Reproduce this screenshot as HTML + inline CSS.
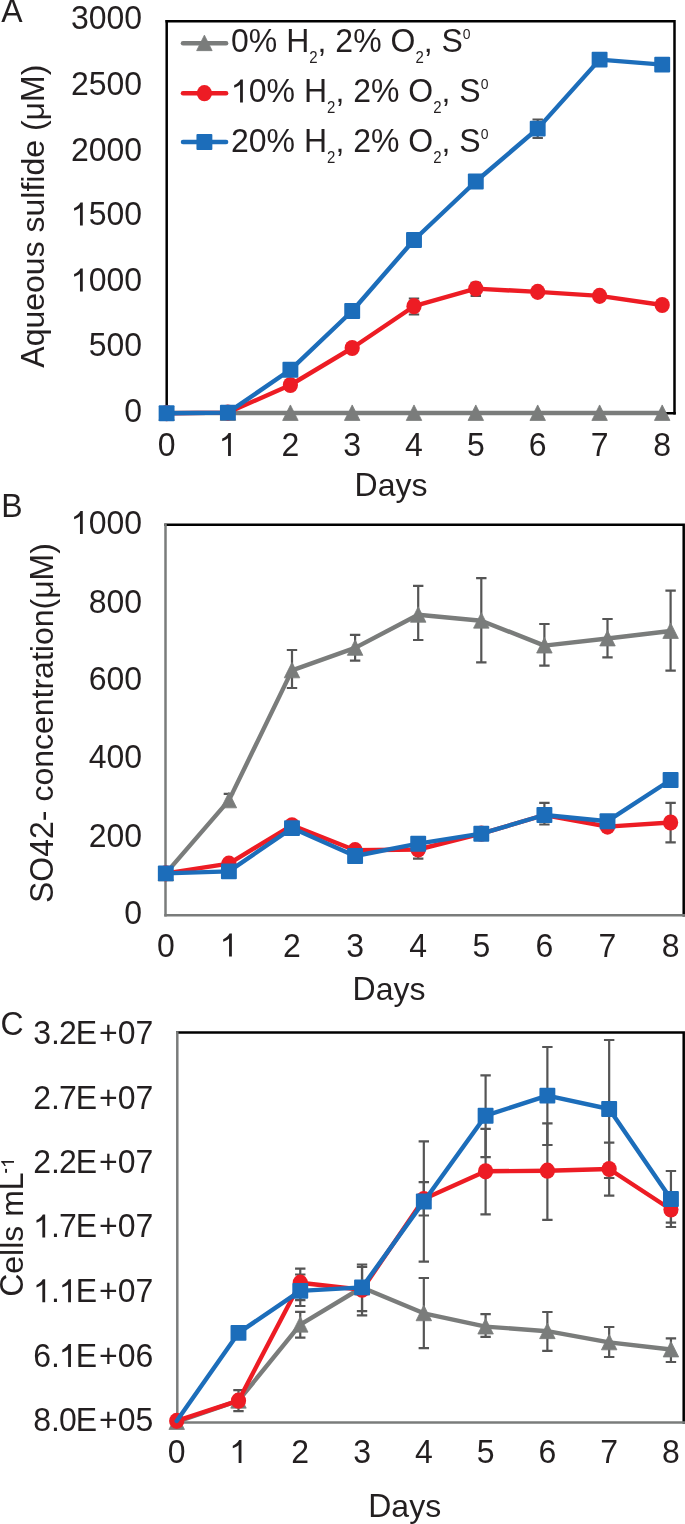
<!DOCTYPE html>
<html><head><meta charset="utf-8"><style>
html,body{margin:0;padding:0;background:#fff;}
body{width:685px;height:1524px;overflow:hidden;}
svg{display:block;will-change:transform;filter:blur(0.35px);}
text{font-family:"Liberation Sans",sans-serif;fill:#231f20;}
</style></head><body>
<svg width="685" height="1524" viewBox="0 0 685 1524">
<rect width="685" height="1524" fill="#fff"/>
<text transform="translate(1.20,22.40) scale(1,1.045)" font-size="32">A</text>
<path d="M166.70,21.30H674.50V413.30" stroke="#000" stroke-width="2.5" fill="none" stroke-linecap="square"/>
<path d="M166.70,21.30V413.30" stroke="#000" stroke-width="2.5" fill="none" stroke-linecap="square"/>
<path d="M166.70,413.30H674.50" stroke="#000" stroke-width="2.5" fill="none" stroke-linecap="square"/>
<text transform="translate(70.91,28.80) scale(1,1.045)" font-size="32">3</text>
<text transform="translate(88.71,28.80) scale(1,1.045)" font-size="32">0</text>
<text transform="translate(106.51,28.80) scale(1,1.045)" font-size="32">0</text>
<text transform="translate(124.30,28.80) scale(1,1.045)" font-size="32">0</text>
<text transform="translate(70.91,95.10) scale(1,1.045)" font-size="32">2</text>
<text transform="translate(88.71,95.10) scale(1,1.045)" font-size="32">5</text>
<text transform="translate(106.51,95.10) scale(1,1.045)" font-size="32">0</text>
<text transform="translate(124.30,95.10) scale(1,1.045)" font-size="32">0</text>
<text transform="translate(70.91,160.80) scale(1,1.045)" font-size="32">2</text>
<text transform="translate(88.71,160.80) scale(1,1.045)" font-size="32">0</text>
<text transform="translate(106.51,160.80) scale(1,1.045)" font-size="32">0</text>
<text transform="translate(124.30,160.80) scale(1,1.045)" font-size="32">0</text>
<path transform="translate(70.91,225.40) scale(0.015625,-0.016328)" d="M760,0H580V1100C505,1022 365,948 205,900V1060C360,1120 515,1230 610,1409H760Z" fill="#231f20"/>
<text transform="translate(88.71,225.40) scale(1,1.045)" font-size="32">5</text>
<text transform="translate(106.51,225.40) scale(1,1.045)" font-size="32">0</text>
<text transform="translate(124.30,225.40) scale(1,1.045)" font-size="32">0</text>
<path transform="translate(70.91,291.40) scale(0.015625,-0.016328)" d="M760,0H580V1100C505,1022 365,948 205,900V1060C360,1120 515,1230 610,1409H760Z" fill="#231f20"/>
<text transform="translate(88.71,291.40) scale(1,1.045)" font-size="32">0</text>
<text transform="translate(106.51,291.40) scale(1,1.045)" font-size="32">0</text>
<text transform="translate(124.30,291.40) scale(1,1.045)" font-size="32">0</text>
<text transform="translate(88.71,356.00) scale(1,1.045)" font-size="32">5</text>
<text transform="translate(106.51,356.00) scale(1,1.045)" font-size="32">0</text>
<text transform="translate(124.30,356.00) scale(1,1.045)" font-size="32">0</text>
<text transform="translate(124.30,421.70) scale(1,1.045)" font-size="32">0</text>
<text transform="translate(157.70,455.90) scale(1,1.045)" font-size="32">0</text>
<path transform="translate(219.00,455.90) scale(0.015625,-0.016328)" d="M760,0H580V1100C505,1022 365,948 205,900V1060C360,1120 515,1230 610,1409H760Z" fill="#231f20"/>
<text transform="translate(281.50,455.90) scale(1,1.045)" font-size="32">2</text>
<text transform="translate(343.30,455.90) scale(1,1.045)" font-size="32">3</text>
<text transform="translate(405.10,455.90) scale(1,1.045)" font-size="32">4</text>
<text transform="translate(466.90,455.90) scale(1,1.045)" font-size="32">5</text>
<text transform="translate(528.80,455.90) scale(1,1.045)" font-size="32">6</text>
<text transform="translate(590.70,455.90) scale(1,1.045)" font-size="32">7</text>
<text transform="translate(653.30,455.90) scale(1,1.045)" font-size="32">8</text>
<text transform="translate(354.55,496.30) scale(1,1.045)" font-size="32">D</text>
<text transform="translate(377.66,496.30) scale(1,0.985)" font-size="32">a</text>
<text transform="translate(395.45,496.30) scale(1,0.985)" font-size="32">y</text>
<text transform="translate(411.45,496.30) scale(1,0.985)" font-size="32">s</text>
<text transform="translate(43.70,367.70) rotate(-90) scale(1,1.045)" font-size="32">A</text>
<text transform="translate(43.70,346.36) rotate(-90) scale(1,0.985)" font-size="32">q</text>
<text transform="translate(43.70,328.56) rotate(-90) scale(1,0.985)" font-size="32">u</text>
<text transform="translate(43.70,310.76) rotate(-90) scale(1,0.985)" font-size="32">e</text>
<text transform="translate(43.70,292.97) rotate(-90) scale(1,0.985)" font-size="32">o</text>
<text transform="translate(43.70,275.17) rotate(-90) scale(1,0.985)" font-size="32">u</text>
<text transform="translate(43.70,257.37) rotate(-90) scale(1,0.985)" font-size="32">s</text>
<text transform="translate(43.70,232.48) rotate(-90) scale(1,0.985)" font-size="32">s</text>
<text transform="translate(43.70,216.48) rotate(-90) scale(1,0.985)" font-size="32">u</text>
<text transform="translate(43.70,198.68) rotate(-90) scale(1,0.985)" font-size="32">l</text>
<text transform="translate(43.70,191.57) rotate(-90) scale(1,0.985)" font-size="32">f</text>
<text transform="translate(43.70,182.68) rotate(-90) scale(1,0.985)" font-size="32">i</text>
<text transform="translate(43.70,175.57) rotate(-90) scale(1,0.985)" font-size="32">d</text>
<text transform="translate(43.70,157.78) rotate(-90) scale(1,0.985)" font-size="32">e</text>
<text transform="translate(43.70,131.09) rotate(-90)" font-size="32">(</text>
<text transform="translate(43.70,120.43) rotate(-90) scale(1,0.985)" font-size="32">μ</text>
<text transform="translate(43.70,102.00) rotate(-90) scale(1,1.045)" font-size="32">M</text>
<text transform="translate(43.70,75.34) rotate(-90)" font-size="32">)</text>
<path d="M414.00,298.50V314.50M408.80,298.50H419.20M408.80,314.50H419.20" stroke="#555555" stroke-width="2.2" fill="none"/>
<path d="M475.80,282.80V296.00M470.60,282.80H481.00M470.60,296.00H481.00" stroke="#555555" stroke-width="2.2" fill="none"/>
<path d="M537.70,119.50V138.00M532.50,119.50H542.90M532.50,138.00H542.90" stroke="#555555" stroke-width="2.2" fill="none"/>
<polyline points="166.60,413.00 227.90,413.00 290.40,413.00 352.20,413.00 414.00,413.00 475.80,413.00 537.70,413.00 599.60,413.00 662.20,413.00" fill="none" stroke="#7a7c7b" stroke-width="4.4" stroke-linejoin="round" stroke-linecap="round"/>
<path d="M166.60,404.94 L174.35,420.44 L158.85,420.44Z" fill="#7a7c7b" stroke="#7a7c7b" stroke-width="0.8" stroke-linejoin="round"/>
<path d="M227.90,404.94 L235.65,420.44 L220.15,420.44Z" fill="#7a7c7b" stroke="#7a7c7b" stroke-width="0.8" stroke-linejoin="round"/>
<path d="M290.40,404.94 L298.15,420.44 L282.65,420.44Z" fill="#7a7c7b" stroke="#7a7c7b" stroke-width="0.8" stroke-linejoin="round"/>
<path d="M352.20,404.94 L359.95,420.44 L344.45,420.44Z" fill="#7a7c7b" stroke="#7a7c7b" stroke-width="0.8" stroke-linejoin="round"/>
<path d="M414.00,404.94 L421.75,420.44 L406.25,420.44Z" fill="#7a7c7b" stroke="#7a7c7b" stroke-width="0.8" stroke-linejoin="round"/>
<path d="M475.80,404.94 L483.55,420.44 L468.05,420.44Z" fill="#7a7c7b" stroke="#7a7c7b" stroke-width="0.8" stroke-linejoin="round"/>
<path d="M537.70,404.94 L545.45,420.44 L529.95,420.44Z" fill="#7a7c7b" stroke="#7a7c7b" stroke-width="0.8" stroke-linejoin="round"/>
<path d="M599.60,404.94 L607.35,420.44 L591.85,420.44Z" fill="#7a7c7b" stroke="#7a7c7b" stroke-width="0.8" stroke-linejoin="round"/>
<path d="M662.20,404.94 L669.95,420.44 L654.45,420.44Z" fill="#7a7c7b" stroke="#7a7c7b" stroke-width="0.8" stroke-linejoin="round"/>
<polyline points="166.60,413.20 227.90,412.60 290.40,385.00 352.20,348.00 414.00,306.20 475.80,288.60 537.70,291.90 599.60,295.90 662.20,305.00" fill="none" stroke="#ed1c24" stroke-width="4.4" stroke-linejoin="round" stroke-linecap="round"/>
<ellipse cx="166.60" cy="413.20" rx="7.6" ry="8.09" fill="#ed1c24"/>
<ellipse cx="227.90" cy="412.60" rx="7.6" ry="8.09" fill="#ed1c24"/>
<ellipse cx="290.40" cy="385.00" rx="7.6" ry="8.09" fill="#ed1c24"/>
<ellipse cx="352.20" cy="348.00" rx="7.6" ry="8.09" fill="#ed1c24"/>
<ellipse cx="414.00" cy="306.20" rx="7.6" ry="8.09" fill="#ed1c24"/>
<ellipse cx="475.80" cy="288.60" rx="7.6" ry="8.09" fill="#ed1c24"/>
<ellipse cx="537.70" cy="291.90" rx="7.6" ry="8.09" fill="#ed1c24"/>
<ellipse cx="599.60" cy="295.90" rx="7.6" ry="8.09" fill="#ed1c24"/>
<ellipse cx="662.20" cy="305.00" rx="7.6" ry="8.09" fill="#ed1c24"/>
<polyline points="166.60,413.20 227.90,412.60 290.40,369.80 352.20,311.00 414.00,240.00 475.80,181.50 537.70,128.60 599.60,59.60 662.20,64.60" fill="none" stroke="#1c6dba" stroke-width="4.4" stroke-linejoin="round" stroke-linecap="round"/>
<rect x="158.65" y="405.25" width="15.9" height="15.9" rx="1" fill="#1c6dba"/>
<rect x="219.95" y="404.65" width="15.9" height="15.9" rx="1" fill="#1c6dba"/>
<rect x="282.45" y="361.85" width="15.9" height="15.9" rx="1" fill="#1c6dba"/>
<rect x="344.25" y="303.05" width="15.9" height="15.9" rx="1" fill="#1c6dba"/>
<rect x="406.05" y="232.05" width="15.9" height="15.9" rx="1" fill="#1c6dba"/>
<rect x="467.85" y="173.55" width="15.9" height="15.9" rx="1" fill="#1c6dba"/>
<rect x="529.75" y="120.65" width="15.9" height="15.9" rx="1" fill="#1c6dba"/>
<rect x="591.65" y="51.65" width="15.9" height="15.9" rx="1" fill="#1c6dba"/>
<rect x="654.25" y="56.65" width="15.9" height="15.9" rx="1" fill="#1c6dba"/>
<path d="M183.0,43.2H226.1" stroke="#7a7c7b" stroke-width="4.5" stroke-linecap="round"/>
<path d="M204.40,35.14 L212.15,50.64 L196.65,50.64Z" fill="#7a7c7b" stroke="#7a7c7b" stroke-width="0.8" stroke-linejoin="round"/>
<text transform="translate(231.00,52.40) scale(1,1.045)" font-size="32">0</text>
<text transform="translate(248.80,52.40) scale(1,1.045)" font-size="32">%</text>
<text transform="translate(286.14,52.40) scale(1,1.045)" font-size="32">H</text>
<text transform="translate(309.25,63.40) scale(1,1.045)" font-size="15">2</text>
<text transform="translate(317.59,52.40)" font-size="32">,</text>
<text transform="translate(335.37,52.40) scale(1,1.045)" font-size="32">2</text>
<text transform="translate(353.17,52.40) scale(1,1.045)" font-size="32">%</text>
<text transform="translate(390.51,52.40) scale(1,1.045)" font-size="32">O</text>
<text transform="translate(415.40,63.40) scale(1,1.045)" font-size="15">2</text>
<text transform="translate(423.75,52.40)" font-size="32">,</text>
<text transform="translate(441.53,52.40) scale(1,1.045)" font-size="32">S</text>
<text transform="translate(462.87,39.40) scale(1,1.045)" font-size="14">0</text>
<path d="M183.0,93.2H226.1" stroke="#ed1c24" stroke-width="4.5" stroke-linecap="round"/>
<ellipse cx="204.40" cy="93.20" rx="7.6" ry="8.09" fill="#ed1c24"/>
<path transform="translate(231.00,102.40) scale(0.015625,-0.016328)" d="M760,0H580V1100C505,1022 365,948 205,900V1060C360,1120 515,1230 610,1409H760Z" fill="#231f20"/>
<text transform="translate(248.80,102.40) scale(1,1.045)" font-size="32">0</text>
<text transform="translate(266.59,102.40) scale(1,1.045)" font-size="32">%</text>
<text transform="translate(303.94,102.40) scale(1,1.045)" font-size="32">H</text>
<text transform="translate(327.05,113.40) scale(1,1.045)" font-size="15">2</text>
<text transform="translate(335.39,102.40)" font-size="32">,</text>
<text transform="translate(353.17,102.40) scale(1,1.045)" font-size="32">2</text>
<text transform="translate(370.97,102.40) scale(1,1.045)" font-size="32">%</text>
<text transform="translate(408.31,102.40) scale(1,1.045)" font-size="32">O</text>
<text transform="translate(433.20,113.40) scale(1,1.045)" font-size="15">2</text>
<text transform="translate(441.54,102.40)" font-size="32">,</text>
<text transform="translate(459.33,102.40) scale(1,1.045)" font-size="32">S</text>
<text transform="translate(480.67,89.40) scale(1,1.045)" font-size="14">0</text>
<path d="M183.0,142.0H226.1" stroke="#1c6dba" stroke-width="4.5" stroke-linecap="round"/>
<rect x="196.45" y="134.05" width="15.9" height="15.9" rx="1" fill="#1c6dba"/>
<text transform="translate(231.00,151.70) scale(1,1.045)" font-size="32">2</text>
<text transform="translate(248.80,151.70) scale(1,1.045)" font-size="32">0</text>
<text transform="translate(266.59,151.70) scale(1,1.045)" font-size="32">%</text>
<text transform="translate(303.94,151.70) scale(1,1.045)" font-size="32">H</text>
<text transform="translate(327.05,162.70) scale(1,1.045)" font-size="15">2</text>
<text transform="translate(335.39,151.70)" font-size="32">,</text>
<text transform="translate(353.17,151.70) scale(1,1.045)" font-size="32">2</text>
<text transform="translate(370.97,151.70) scale(1,1.045)" font-size="32">%</text>
<text transform="translate(408.31,151.70) scale(1,1.045)" font-size="32">O</text>
<text transform="translate(433.20,162.70) scale(1,1.045)" font-size="15">2</text>
<text transform="translate(441.54,151.70)" font-size="32">,</text>
<text transform="translate(459.33,151.70) scale(1,1.045)" font-size="32">S</text>
<text transform="translate(480.67,138.70) scale(1,1.045)" font-size="14">0</text>
<text transform="translate(1.20,517.30) scale(1,1.045)" font-size="32">B</text>
<path d="M165.50,524.70H683.70V915.30" stroke="#000" stroke-width="2.5" fill="none" stroke-linecap="square"/>
<path d="M165.50,524.70V915.30" stroke="#7a7c7b" stroke-width="2.5" fill="none" stroke-linecap="square"/>
<path d="M165.50,915.30H683.70" stroke="#7a7c7b" stroke-width="2.5" fill="none" stroke-linecap="square"/>
<path transform="translate(70.91,534.00) scale(0.015625,-0.016328)" d="M760,0H580V1100C505,1022 365,948 205,900V1060C360,1120 515,1230 610,1409H760Z" fill="#231f20"/>
<text transform="translate(88.71,534.00) scale(1,1.045)" font-size="32">0</text>
<text transform="translate(106.51,534.00) scale(1,1.045)" font-size="32">0</text>
<text transform="translate(124.30,534.00) scale(1,1.045)" font-size="32">0</text>
<text transform="translate(88.71,612.80) scale(1,1.045)" font-size="32">8</text>
<text transform="translate(106.51,612.80) scale(1,1.045)" font-size="32">0</text>
<text transform="translate(124.30,612.80) scale(1,1.045)" font-size="32">0</text>
<text transform="translate(88.71,689.50) scale(1,1.045)" font-size="32">6</text>
<text transform="translate(106.51,689.50) scale(1,1.045)" font-size="32">0</text>
<text transform="translate(124.30,689.50) scale(1,1.045)" font-size="32">0</text>
<text transform="translate(88.71,768.10) scale(1,1.045)" font-size="32">4</text>
<text transform="translate(106.51,768.10) scale(1,1.045)" font-size="32">0</text>
<text transform="translate(124.30,768.10) scale(1,1.045)" font-size="32">0</text>
<text transform="translate(88.71,846.90) scale(1,1.045)" font-size="32">2</text>
<text transform="translate(106.51,846.90) scale(1,1.045)" font-size="32">0</text>
<text transform="translate(124.30,846.90) scale(1,1.045)" font-size="32">0</text>
<text transform="translate(124.30,923.90) scale(1,1.045)" font-size="32">0</text>
<text transform="translate(156.90,956.50) scale(1,1.045)" font-size="32">0</text>
<path transform="translate(220.00,956.50) scale(0.015625,-0.016328)" d="M760,0H580V1100C505,1022 365,948 205,900V1060C360,1120 515,1230 610,1409H760Z" fill="#231f20"/>
<text transform="translate(283.10,956.50) scale(1,1.045)" font-size="32">2</text>
<text transform="translate(346.20,956.50) scale(1,1.045)" font-size="32">3</text>
<text transform="translate(409.30,956.50) scale(1,1.045)" font-size="32">4</text>
<text transform="translate(472.40,956.50) scale(1,1.045)" font-size="32">5</text>
<text transform="translate(535.50,956.50) scale(1,1.045)" font-size="32">6</text>
<text transform="translate(598.60,956.50) scale(1,1.045)" font-size="32">7</text>
<text transform="translate(661.70,956.50) scale(1,1.045)" font-size="32">8</text>
<text transform="translate(352.55,999.60) scale(1,1.045)" font-size="32">D</text>
<text transform="translate(375.66,999.60) scale(1,0.985)" font-size="32">a</text>
<text transform="translate(393.45,999.60) scale(1,0.985)" font-size="32">y</text>
<text transform="translate(409.45,999.60) scale(1,0.985)" font-size="32">s</text>
<text transform="translate(52.90,903.00) rotate(-90) scale(1,1.045)" font-size="32">S</text>
<text transform="translate(52.90,881.66) rotate(-90) scale(1,1.045)" font-size="32">O</text>
<text transform="translate(52.90,856.77) rotate(-90) scale(1,1.045)" font-size="32">4</text>
<text transform="translate(52.90,838.97) rotate(-90) scale(1,1.045)" font-size="32">2</text>
<text transform="translate(52.90,821.17) rotate(-90)" font-size="32">-</text>
<text transform="translate(52.90,801.62) rotate(-90) scale(1,0.985)" font-size="32">c</text>
<text transform="translate(52.90,785.62) rotate(-90) scale(1,0.985)" font-size="32">o</text>
<text transform="translate(52.90,767.83) rotate(-90) scale(1,0.985)" font-size="32">n</text>
<text transform="translate(52.90,750.03) rotate(-90) scale(1,0.985)" font-size="32">c</text>
<text transform="translate(52.90,734.03) rotate(-90) scale(1,0.985)" font-size="32">e</text>
<text transform="translate(52.90,716.23) rotate(-90) scale(1,0.985)" font-size="32">n</text>
<text transform="translate(52.90,698.44) rotate(-90) scale(1,0.985)" font-size="32">t</text>
<text transform="translate(52.90,689.55) rotate(-90) scale(1,0.985)" font-size="32">r</text>
<text transform="translate(52.90,678.89) rotate(-90) scale(1,0.985)" font-size="32">a</text>
<text transform="translate(52.90,661.09) rotate(-90) scale(1,0.985)" font-size="32">t</text>
<text transform="translate(52.90,652.20) rotate(-90) scale(1,0.985)" font-size="32">i</text>
<text transform="translate(52.90,645.09) rotate(-90) scale(1,0.985)" font-size="32">o</text>
<text transform="translate(52.90,627.30) rotate(-90) scale(1,0.985)" font-size="32">n</text>
<text transform="translate(52.90,609.50) rotate(-90)" font-size="32">(</text>
<text transform="translate(52.90,598.84) rotate(-90) scale(1,0.985)" font-size="32">μ</text>
<text transform="translate(52.90,580.41) rotate(-90) scale(1,1.045)" font-size="32">M</text>
<text transform="translate(52.90,553.75) rotate(-90)" font-size="32">)</text>
<path d="M228.90,793.80V806.00M223.70,793.80H234.10M223.70,806.00H234.10" stroke="#555555" stroke-width="2.2" fill="none"/>
<path d="M292.00,650.00V688.00M286.80,650.00H297.20M286.80,688.00H297.20" stroke="#555555" stroke-width="2.2" fill="none"/>
<path d="M355.10,634.80V660.60M349.90,634.80H360.30M349.90,660.60H360.30" stroke="#555555" stroke-width="2.2" fill="none"/>
<path d="M418.20,585.80V640.00M413.00,585.80H423.40M413.00,640.00H423.40" stroke="#555555" stroke-width="2.2" fill="none"/>
<path d="M481.30,578.20V662.30M476.10,578.20H486.50M476.10,662.30H486.50" stroke="#555555" stroke-width="2.2" fill="none"/>
<path d="M544.40,624.00V665.60M539.20,624.00H549.60M539.20,665.60H549.60" stroke="#555555" stroke-width="2.2" fill="none"/>
<path d="M607.50,619.00V657.30M602.30,619.00H612.70M602.30,657.30H612.70" stroke="#555555" stroke-width="2.2" fill="none"/>
<path d="M670.60,590.70V670.60M665.40,590.70H675.80M665.40,670.60H675.80" stroke="#555555" stroke-width="2.2" fill="none"/>
<path d="M418.20,840.00V858.60M413.00,840.00H423.40M413.00,858.60H423.40" stroke="#555555" stroke-width="2.2" fill="none"/>
<path d="M544.40,802.90V824.50M539.20,802.90H549.60M539.20,824.50H549.60" stroke="#555555" stroke-width="2.2" fill="none"/>
<path d="M670.60,802.90V842.40M665.40,802.90H675.80M665.40,842.40H675.80" stroke="#555555" stroke-width="2.2" fill="none"/>
<polyline points="165.80,873.40 228.90,800.40 292.00,670.40 355.10,647.90 418.20,614.80 481.30,620.70 544.40,645.60 607.50,638.50 670.60,631.00" fill="none" stroke="#7a7c7b" stroke-width="4.4" stroke-linejoin="round" stroke-linecap="round"/>
<path d="M165.80,865.34 L173.55,880.84 L158.05,880.84Z" fill="#7a7c7b" stroke="#7a7c7b" stroke-width="0.8" stroke-linejoin="round"/>
<path d="M228.90,792.34 L236.65,807.84 L221.15,807.84Z" fill="#7a7c7b" stroke="#7a7c7b" stroke-width="0.8" stroke-linejoin="round"/>
<path d="M292.00,662.34 L299.75,677.84 L284.25,677.84Z" fill="#7a7c7b" stroke="#7a7c7b" stroke-width="0.8" stroke-linejoin="round"/>
<path d="M355.10,639.84 L362.85,655.34 L347.35,655.34Z" fill="#7a7c7b" stroke="#7a7c7b" stroke-width="0.8" stroke-linejoin="round"/>
<path d="M418.20,606.74 L425.95,622.24 L410.45,622.24Z" fill="#7a7c7b" stroke="#7a7c7b" stroke-width="0.8" stroke-linejoin="round"/>
<path d="M481.30,612.64 L489.05,628.14 L473.55,628.14Z" fill="#7a7c7b" stroke="#7a7c7b" stroke-width="0.8" stroke-linejoin="round"/>
<path d="M544.40,637.54 L552.15,653.04 L536.65,653.04Z" fill="#7a7c7b" stroke="#7a7c7b" stroke-width="0.8" stroke-linejoin="round"/>
<path d="M607.50,630.44 L615.25,645.94 L599.75,645.94Z" fill="#7a7c7b" stroke="#7a7c7b" stroke-width="0.8" stroke-linejoin="round"/>
<path d="M670.60,622.94 L678.35,638.44 L662.85,638.44Z" fill="#7a7c7b" stroke="#7a7c7b" stroke-width="0.8" stroke-linejoin="round"/>
<polyline points="165.80,873.40 228.90,863.60 292.00,825.30 355.10,850.20 418.20,849.50 481.30,833.70 544.40,815.00 607.50,826.60 670.60,822.50" fill="none" stroke="#ed1c24" stroke-width="4.4" stroke-linejoin="round" stroke-linecap="round"/>
<ellipse cx="165.80" cy="873.40" rx="7.6" ry="8.09" fill="#ed1c24"/>
<ellipse cx="228.90" cy="863.60" rx="7.6" ry="8.09" fill="#ed1c24"/>
<ellipse cx="292.00" cy="825.30" rx="7.6" ry="8.09" fill="#ed1c24"/>
<ellipse cx="355.10" cy="850.20" rx="7.6" ry="8.09" fill="#ed1c24"/>
<ellipse cx="418.20" cy="849.50" rx="7.6" ry="8.09" fill="#ed1c24"/>
<ellipse cx="481.30" cy="833.70" rx="7.6" ry="8.09" fill="#ed1c24"/>
<ellipse cx="544.40" cy="815.00" rx="7.6" ry="8.09" fill="#ed1c24"/>
<ellipse cx="607.50" cy="826.60" rx="7.6" ry="8.09" fill="#ed1c24"/>
<ellipse cx="670.60" cy="822.50" rx="7.6" ry="8.09" fill="#ed1c24"/>
<polyline points="165.80,873.40 228.90,871.40 292.00,828.10 355.10,856.00 418.20,843.70 481.30,833.70 544.40,815.00 607.50,821.20 670.60,780.00" fill="none" stroke="#1c6dba" stroke-width="4.4" stroke-linejoin="round" stroke-linecap="round"/>
<rect x="157.85" y="865.45" width="15.9" height="15.9" rx="1" fill="#1c6dba"/>
<rect x="220.95" y="863.45" width="15.9" height="15.9" rx="1" fill="#1c6dba"/>
<rect x="284.05" y="820.15" width="15.9" height="15.9" rx="1" fill="#1c6dba"/>
<rect x="347.15" y="848.05" width="15.9" height="15.9" rx="1" fill="#1c6dba"/>
<rect x="410.25" y="835.75" width="15.9" height="15.9" rx="1" fill="#1c6dba"/>
<rect x="473.35" y="825.75" width="15.9" height="15.9" rx="1" fill="#1c6dba"/>
<rect x="536.45" y="807.05" width="15.9" height="15.9" rx="1" fill="#1c6dba"/>
<rect x="599.55" y="813.25" width="15.9" height="15.9" rx="1" fill="#1c6dba"/>
<rect x="662.65" y="772.05" width="15.9" height="15.9" rx="1" fill="#1c6dba"/>
<text transform="translate(0.40,1035.10) scale(1,1.045)" font-size="32">C</text>
<path d="M177.30,1032.50H683.70V1422.40" stroke="#000" stroke-width="2.5" fill="none" stroke-linecap="square"/>
<path d="M177.30,1032.50V1422.40" stroke="#7a7c7b" stroke-width="2.5" fill="none" stroke-linecap="square"/>
<path d="M177.30,1422.40H683.70" stroke="#7a7c7b" stroke-width="2.5" fill="none" stroke-linecap="square"/>
<text transform="translate(33.29,1044.30) scale(1,1.045)" font-size="32">3</text>
<text transform="translate(51.09,1044.30)" font-size="32">.</text>
<text transform="translate(59.08,1044.30) scale(1,1.045)" font-size="32">2</text>
<text transform="translate(75.78,1044.30) scale(1,1.045)" font-size="32">E</text>
<text transform="translate(99.12,1044.30) scale(1,1.045)" font-size="32">+</text>
<text transform="translate(117.81,1044.30) scale(1,1.045)" font-size="32">0</text>
<text transform="translate(135.60,1044.30) scale(1,1.045)" font-size="32">7</text>
<text transform="translate(33.29,1108.55) scale(1,1.045)" font-size="32">2</text>
<text transform="translate(51.09,1108.55)" font-size="32">.</text>
<text transform="translate(59.08,1108.55) scale(1,1.045)" font-size="32">7</text>
<text transform="translate(75.78,1108.55) scale(1,1.045)" font-size="32">E</text>
<text transform="translate(99.12,1108.55) scale(1,1.045)" font-size="32">+</text>
<text transform="translate(117.81,1108.55) scale(1,1.045)" font-size="32">0</text>
<text transform="translate(135.60,1108.55) scale(1,1.045)" font-size="32">7</text>
<text transform="translate(33.29,1172.50) scale(1,1.045)" font-size="32">2</text>
<text transform="translate(51.09,1172.50)" font-size="32">.</text>
<text transform="translate(59.08,1172.50) scale(1,1.045)" font-size="32">2</text>
<text transform="translate(75.78,1172.50) scale(1,1.045)" font-size="32">E</text>
<text transform="translate(99.12,1172.50) scale(1,1.045)" font-size="32">+</text>
<text transform="translate(117.81,1172.50) scale(1,1.045)" font-size="32">0</text>
<text transform="translate(135.60,1172.50) scale(1,1.045)" font-size="32">7</text>
<path transform="translate(33.29,1237.40) scale(0.015625,-0.016328)" d="M760,0H580V1100C505,1022 365,948 205,900V1060C360,1120 515,1230 610,1409H760Z" fill="#231f20"/>
<text transform="translate(51.09,1237.40)" font-size="32">.</text>
<text transform="translate(59.08,1237.40) scale(1,1.045)" font-size="32">7</text>
<text transform="translate(75.78,1237.40) scale(1,1.045)" font-size="32">E</text>
<text transform="translate(99.12,1237.40) scale(1,1.045)" font-size="32">+</text>
<text transform="translate(117.81,1237.40) scale(1,1.045)" font-size="32">0</text>
<text transform="translate(135.60,1237.40) scale(1,1.045)" font-size="32">7</text>
<path transform="translate(33.29,1302.20) scale(0.015625,-0.016328)" d="M760,0H580V1100C505,1022 365,948 205,900V1060C360,1120 515,1230 610,1409H760Z" fill="#231f20"/>
<text transform="translate(51.09,1302.20)" font-size="32">.</text>
<path transform="translate(59.08,1302.20) scale(0.015625,-0.016328)" d="M760,0H580V1100C505,1022 365,948 205,900V1060C360,1120 515,1230 610,1409H760Z" fill="#231f20"/>
<text transform="translate(75.78,1302.20) scale(1,1.045)" font-size="32">E</text>
<text transform="translate(99.12,1302.20) scale(1,1.045)" font-size="32">+</text>
<text transform="translate(117.81,1302.20) scale(1,1.045)" font-size="32">0</text>
<text transform="translate(135.60,1302.20) scale(1,1.045)" font-size="32">7</text>
<text transform="translate(33.29,1367.10) scale(1,1.045)" font-size="32">6</text>
<text transform="translate(51.09,1367.10)" font-size="32">.</text>
<path transform="translate(59.08,1367.10) scale(0.015625,-0.016328)" d="M760,0H580V1100C505,1022 365,948 205,900V1060C360,1120 515,1230 610,1409H760Z" fill="#231f20"/>
<text transform="translate(75.78,1367.10) scale(1,1.045)" font-size="32">E</text>
<text transform="translate(99.12,1367.10) scale(1,1.045)" font-size="32">+</text>
<text transform="translate(117.81,1367.10) scale(1,1.045)" font-size="32">0</text>
<text transform="translate(135.60,1367.10) scale(1,1.045)" font-size="32">6</text>
<text transform="translate(33.29,1430.50) scale(1,1.045)" font-size="32">8</text>
<text transform="translate(51.09,1430.50)" font-size="32">.</text>
<text transform="translate(59.08,1430.50) scale(1,1.045)" font-size="32">0</text>
<text transform="translate(75.78,1430.50) scale(1,1.045)" font-size="32">E</text>
<text transform="translate(99.12,1430.50) scale(1,1.045)" font-size="32">+</text>
<text transform="translate(117.81,1430.50) scale(1,1.045)" font-size="32">0</text>
<text transform="translate(135.60,1430.50) scale(1,1.045)" font-size="32">5</text>
<text transform="translate(167.80,1463.00) scale(1,1.045)" font-size="32">0</text>
<path transform="translate(229.58,1463.00) scale(0.015625,-0.016328)" d="M760,0H580V1100C505,1022 365,948 205,900V1060C360,1120 515,1230 610,1409H760Z" fill="#231f20"/>
<text transform="translate(291.36,1463.00) scale(1,1.045)" font-size="32">2</text>
<text transform="translate(353.14,1463.00) scale(1,1.045)" font-size="32">3</text>
<text transform="translate(414.92,1463.00) scale(1,1.045)" font-size="32">4</text>
<text transform="translate(476.70,1463.00) scale(1,1.045)" font-size="32">5</text>
<text transform="translate(538.48,1463.00) scale(1,1.045)" font-size="32">6</text>
<text transform="translate(600.26,1463.00) scale(1,1.045)" font-size="32">7</text>
<text transform="translate(662.04,1463.00) scale(1,1.045)" font-size="32">8</text>
<text transform="translate(368.25,1517.10) scale(1,1.045)" font-size="32">D</text>
<text transform="translate(391.36,1517.10) scale(1,0.985)" font-size="32">a</text>
<text transform="translate(409.15,1517.10) scale(1,0.985)" font-size="32">y</text>
<text transform="translate(425.15,1517.10) scale(1,0.985)" font-size="32">s</text>
<text transform="translate(23.10,1296.80) rotate(-90) scale(1,1.045)" font-size="32">C</text>
<text transform="translate(23.10,1273.69) rotate(-90) scale(1,0.985)" font-size="32">e</text>
<text transform="translate(23.10,1255.89) rotate(-90) scale(1,0.985)" font-size="32">l</text>
<text transform="translate(23.10,1248.78) rotate(-90) scale(1,0.985)" font-size="32">l</text>
<text transform="translate(23.10,1241.67) rotate(-90) scale(1,0.985)" font-size="32">s</text>
<text transform="translate(23.10,1216.78) rotate(-90) scale(1,0.985)" font-size="32">m</text>
<text transform="translate(23.10,1190.13) rotate(-90) scale(1,1.045)" font-size="32">L</text>
<path transform="translate(14.0,1167.9) rotate(-90) scale(0.009082,-0.009082)" d="M760,0H580V1100C505,1022 365,948 205,900V1060C360,1120 515,1230 610,1409H760Z" fill="#231f20"/>
<rect x="5.1" y="1168.9" width="1.9" height="3.9" fill="#231f20"/>
<path d="M300.26,1311.90V1337.60M295.06,1311.90H305.46M295.06,1337.60H305.46" stroke="#555555" stroke-width="2.2" fill="none"/>
<path d="M362.04,1266.80V1315.40M356.84,1266.80H367.24M356.84,1315.40H367.24" stroke="#555555" stroke-width="2.2" fill="none"/>
<path d="M423.82,1278.00V1348.10M418.62,1278.00H429.02M418.62,1348.10H429.02" stroke="#555555" stroke-width="2.2" fill="none"/>
<path d="M485.60,1314.10V1336.90M480.40,1314.10H490.80M480.40,1336.90H490.80" stroke="#555555" stroke-width="2.2" fill="none"/>
<path d="M547.38,1312.00V1350.80M542.18,1312.00H552.58M542.18,1350.80H552.58" stroke="#555555" stroke-width="2.2" fill="none"/>
<path d="M609.16,1327.00V1357.00M603.96,1327.00H614.36M603.96,1357.00H614.36" stroke="#555555" stroke-width="2.2" fill="none"/>
<path d="M670.94,1338.30V1362.00M665.74,1338.30H676.14M665.74,1362.00H676.14" stroke="#555555" stroke-width="2.2" fill="none"/>
<path d="M238.48,1390.20V1411.20M233.28,1390.20H243.68M233.28,1411.20H243.68" stroke="#555555" stroke-width="2.2" fill="none"/>
<path d="M300.26,1268.70V1300.20M295.06,1268.70H305.46M295.06,1300.20H305.46" stroke="#555555" stroke-width="2.2" fill="none"/>
<path d="M362.04,1264.50V1311.20M356.84,1264.50H367.24M356.84,1311.20H367.24" stroke="#555555" stroke-width="2.2" fill="none"/>
<path d="M423.82,1182.20V1215.50M418.62,1182.20H429.02M418.62,1215.50H429.02" stroke="#555555" stroke-width="2.2" fill="none"/>
<path d="M485.60,1128.90V1214.30M480.40,1128.90H490.80M480.40,1214.30H490.80" stroke="#555555" stroke-width="2.2" fill="none"/>
<path d="M547.38,1123.40V1219.80M542.18,1123.40H552.58M542.18,1219.80H552.58" stroke="#555555" stroke-width="2.2" fill="none"/>
<path d="M609.16,1142.70V1195.60M603.96,1142.70H614.36M603.96,1195.60H614.36" stroke="#555555" stroke-width="2.2" fill="none"/>
<path d="M670.94,1196.00V1222.70M665.74,1196.00H676.14M665.74,1222.70H676.14" stroke="#555555" stroke-width="2.2" fill="none"/>
<path d="M300.26,1274.50V1306.00M295.06,1274.50H305.46M295.06,1306.00H305.46" stroke="#555555" stroke-width="2.2" fill="none"/>
<path d="M423.82,1141.40V1261.60M418.62,1141.40H429.02M418.62,1261.60H429.02" stroke="#555555" stroke-width="2.2" fill="none"/>
<path d="M485.60,1075.40V1157.20M480.40,1075.40H490.80M480.40,1157.20H490.80" stroke="#555555" stroke-width="2.2" fill="none"/>
<path d="M547.38,1047.00V1145.00M542.18,1047.00H552.58M542.18,1145.00H552.58" stroke="#555555" stroke-width="2.2" fill="none"/>
<path d="M609.16,1040.00V1178.00M603.96,1040.00H614.36M603.96,1178.00H614.36" stroke="#555555" stroke-width="2.2" fill="none"/>
<path d="M670.94,1171.00V1227.00M665.74,1171.00H676.14M665.74,1227.00H676.14" stroke="#555555" stroke-width="2.2" fill="none"/>
<polyline points="176.70,1422.00 238.48,1400.70 300.26,1324.70 362.04,1287.50 423.82,1313.30 485.60,1326.60 547.38,1331.20 609.16,1342.40 670.94,1349.50" fill="none" stroke="#7a7c7b" stroke-width="4.4" stroke-linejoin="round" stroke-linecap="round"/>
<path d="M176.70,1413.94 L184.45,1429.44 L168.95,1429.44Z" fill="#7a7c7b" stroke="#7a7c7b" stroke-width="0.8" stroke-linejoin="round"/>
<path d="M238.48,1392.64 L246.23,1408.14 L230.73,1408.14Z" fill="#7a7c7b" stroke="#7a7c7b" stroke-width="0.8" stroke-linejoin="round"/>
<path d="M300.26,1316.64 L308.01,1332.14 L292.51,1332.14Z" fill="#7a7c7b" stroke="#7a7c7b" stroke-width="0.8" stroke-linejoin="round"/>
<path d="M362.04,1279.44 L369.79,1294.94 L354.29,1294.94Z" fill="#7a7c7b" stroke="#7a7c7b" stroke-width="0.8" stroke-linejoin="round"/>
<path d="M423.82,1305.24 L431.57,1320.74 L416.07,1320.74Z" fill="#7a7c7b" stroke="#7a7c7b" stroke-width="0.8" stroke-linejoin="round"/>
<path d="M485.60,1318.54 L493.35,1334.04 L477.85,1334.04Z" fill="#7a7c7b" stroke="#7a7c7b" stroke-width="0.8" stroke-linejoin="round"/>
<path d="M547.38,1323.14 L555.13,1338.64 L539.63,1338.64Z" fill="#7a7c7b" stroke="#7a7c7b" stroke-width="0.8" stroke-linejoin="round"/>
<path d="M609.16,1334.34 L616.91,1349.84 L601.41,1349.84Z" fill="#7a7c7b" stroke="#7a7c7b" stroke-width="0.8" stroke-linejoin="round"/>
<path d="M670.94,1341.44 L678.69,1356.94 L663.19,1356.94Z" fill="#7a7c7b" stroke="#7a7c7b" stroke-width="0.8" stroke-linejoin="round"/>
<polyline points="176.70,1420.90 238.48,1400.70 300.26,1282.70 362.04,1289.70 423.82,1199.00 485.60,1171.30 547.38,1170.70 609.16,1169.00 670.94,1209.50" fill="none" stroke="#ed1c24" stroke-width="4.4" stroke-linejoin="round" stroke-linecap="round"/>
<ellipse cx="176.70" cy="1420.90" rx="7.6" ry="8.09" fill="#ed1c24"/>
<ellipse cx="238.48" cy="1400.70" rx="7.6" ry="8.09" fill="#ed1c24"/>
<ellipse cx="300.26" cy="1282.70" rx="7.6" ry="8.09" fill="#ed1c24"/>
<ellipse cx="362.04" cy="1289.70" rx="7.6" ry="8.09" fill="#ed1c24"/>
<ellipse cx="423.82" cy="1199.00" rx="7.6" ry="8.09" fill="#ed1c24"/>
<ellipse cx="485.60" cy="1171.30" rx="7.6" ry="8.09" fill="#ed1c24"/>
<ellipse cx="547.38" cy="1170.70" rx="7.6" ry="8.09" fill="#ed1c24"/>
<ellipse cx="609.16" cy="1169.00" rx="7.6" ry="8.09" fill="#ed1c24"/>
<ellipse cx="670.94" cy="1209.50" rx="7.6" ry="8.09" fill="#ed1c24"/>
<polyline points="176.70,1420.90 238.48,1332.90 300.26,1290.90 362.04,1287.40 423.82,1201.50 485.60,1115.70 547.38,1095.60 609.16,1109.00 670.94,1199.00" fill="none" stroke="#1c6dba" stroke-width="4.4" stroke-linejoin="round" stroke-linecap="round"/>
<rect x="230.53" y="1324.95" width="15.9" height="15.9" rx="1" fill="#1c6dba"/>
<rect x="292.31" y="1282.95" width="15.9" height="15.9" rx="1" fill="#1c6dba"/>
<rect x="354.09" y="1279.45" width="15.9" height="15.9" rx="1" fill="#1c6dba"/>
<rect x="415.87" y="1193.55" width="15.9" height="15.9" rx="1" fill="#1c6dba"/>
<rect x="477.65" y="1107.75" width="15.9" height="15.9" rx="1" fill="#1c6dba"/>
<rect x="539.43" y="1087.65" width="15.9" height="15.9" rx="1" fill="#1c6dba"/>
<rect x="601.21" y="1101.05" width="15.9" height="15.9" rx="1" fill="#1c6dba"/>
<rect x="662.99" y="1191.05" width="15.9" height="15.9" rx="1" fill="#1c6dba"/>
</svg>
</body></html>
